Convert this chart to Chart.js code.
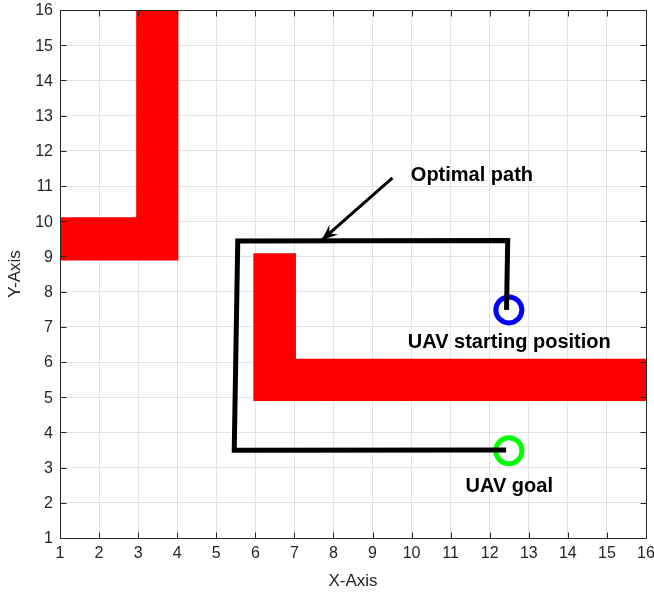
<!DOCTYPE html>
<html>
<head>
<meta charset="utf-8">
<script src="https://cdn.jsdelivr.net/npm/chart.js@4.4.1/dist/chart.umd.min.js"></script>
<style>
  html, body { margin: 0; padding: 0; background: #ffffff; }
  #wrap { width: 654px; height: 593px; }
</style>
</head>
<body>
<div id="wrap"><canvas id="pathChart" width="654" height="593"></canvas></div>
<script>
// --- Données ---
const axisTicks = [1, 2, 3, 4, 5, 6, 7, 8, 9, 10, 11, 12, 13, 14, 15, 16];

// obstacles (polygones fermés)
const obstacleA = [
    { x: 2.95, y: 16.1 }, { x: 4.03, y: 16.1 }, { x: 4.03, y: 8.88 },
    { x: 0.96, y: 8.88 }, { x: 0.96, y: 10.11 }, { x: 2.95, y: 10.11 }, { x: 2.95, y: 16.1 }
];
const obstacleB = [
    { x: 5.95, y: 9.09 }, { x: 7.04, y: 9.09 }, { x: 7.04, y: 6.09 },
    { x: 16.03, y: 6.09 }, { x: 16.03, y: 4.89 }, { x: 5.95, y: 4.89 }, { x: 5.95, y: 9.09 }
];

// chemin optimal
const optimalPath = [
    { x: 12.43, y: 7.48 }, { x: 12.46, y: 9.45 }, { x: 5.55, y: 9.44 },
    { x: 5.46, y: 3.49 }, { x: 12.42, y: 3.5 }
];

const startPoint = [{ x: 12.49, y: 7.48 }];
const goalPoint = [{ x: 12.49, y: 3.48 }];

// flèche d'annotation : départ -> pointe
const arrowLine = [{ x: 9.51, y: 11.23 }, { x: 7.70, y: 9.46 }];

const labels = [
    { text: 'Optimal path', x: 9.98, y: 11.29, align: 'left' },
    { text: 'UAV starting position', x: 12.5, y: 6.55, align: 'center' },
    { text: 'UAV goal', x: 12.5, y: 2.45, align: 'center' }
];

const AXIS_COLOR = '#262626';
const FONT = '"Liberation Sans", Arial, Helvetica, sans-serif';

// --- Plugin : cadre, graduations intérieures, étiquettes, flèche et textes ---
const decorPlugin = {
    id: 'decor',
    afterDatasetsDraw(chart) {
        const { ctx, chartArea: a, scales: { x, y } } = chart;
        ctx.save();

        // flèche (tête pleine avec encoche)
        const p0 = { x: x.getPixelForValue(arrowLine[0].x), y: y.getPixelForValue(arrowLine[0].y) };
        const p1 = { x: x.getPixelForValue(arrowLine[1].x), y: y.getPixelForValue(arrowLine[1].y) };
        const ang = Math.atan2(p1.y - p0.y, p1.x - p0.x);
        const len = 16, half = 6.5, notch = 10;
        const pt = (d, w) => ({
            x: p1.x - d * Math.cos(ang) - w * Math.sin(ang),
            y: p1.y - d * Math.sin(ang) + w * Math.cos(ang)
        });
        const c1 = pt(len, half), c2 = pt(len, -half), n = pt(notch, 0);
        ctx.fillStyle = '#000';
        ctx.beginPath();
        ctx.moveTo(p1.x, p1.y);
        ctx.lineTo(c1.x, c1.y);
        ctx.lineTo(n.x, n.y);
        ctx.lineTo(c2.x, c2.y);
        ctx.closePath();
        ctx.fill();

        // textes
        ctx.fillStyle = '#000';
        ctx.font = 'bold 20px ' + FONT;
        ctx.textBaseline = 'middle';
        labels.forEach(l => {
            ctx.textAlign = l.align;
            ctx.fillText(l.text, x.getPixelForValue(l.x), y.getPixelForValue(l.y));
        });

        // cadre complet
        ctx.strokeStyle = AXIS_COLOR;
        ctx.lineWidth = 1;
        const L = Math.round(a.left) + 0.5, R = Math.round(a.right) + 0.5;
        const T = Math.round(a.top) + 0.5, B = Math.round(a.bottom) + 0.5;
        ctx.strokeRect(L, T, R - L, B - T);

        // graduations vers l'intérieur sur les quatre côtés + étiquettes
        const tl = 6;
        ctx.beginPath();
        axisTicks.forEach(v => {
            const px = Math.round(x.getPixelForValue(v)) + 0.5;
            ctx.moveTo(px, B); ctx.lineTo(px, B - tl);
            ctx.moveTo(px, T); ctx.lineTo(px, T + tl);
            const py = Math.round(y.getPixelForValue(v)) + 0.5;
            ctx.moveTo(L, py); ctx.lineTo(L + tl, py);
            ctx.moveTo(R, py); ctx.lineTo(R - tl, py);
        });
        ctx.stroke();

        ctx.fillStyle = AXIS_COLOR;
        ctx.font = '16px ' + FONT;
        ctx.textBaseline = 'middle';
        axisTicks.forEach(v => {
            ctx.textAlign = 'center';
            ctx.fillText(String(v), x.getPixelForValue(v), a.bottom + 16);
            ctx.textAlign = 'right';
            ctx.fillText(String(v), a.left - 7, y.getPixelForValue(v) + 1);
        });
        ctx.restore();
    }
};

const obstacleStyle = {
    showLine: true,
    fill: 'shape',
    backgroundColor: '#ff0000',
    borderColor: '#ff0000',
    borderWidth: 0,
    pointRadius: 0,
    clip: false,
    tension: 0
};

new Chart(document.getElementById('pathChart'), {
    type: 'scatter',
    data: {
        datasets: [
            { ...obstacleStyle, data: obstacleA, order: 5 },
            { ...obstacleStyle, data: obstacleB, order: 5 },
            {
                data: startPoint, order: 3, pointRadius: 13, pointBorderWidth: 5,
                pointBorderColor: '#0000ff', pointBackgroundColor: 'rgba(0,0,0,0)', clip: false
            },
            {
                data: goalPoint, order: 3, pointRadius: 13, pointBorderWidth: 5,
                pointBorderColor: '#00ff00', pointBackgroundColor: 'rgba(0,0,0,0)', clip: false
            },
            {
                data: optimalPath, order: 1, showLine: true, borderColor: '#000', borderWidth: 5,
                pointRadius: 0, tension: 0, borderJoinStyle: 'miter', clip: false
            },
            {
                data: arrowLine, order: 1, showLine: true, borderColor: '#000', borderWidth: 3,
                pointRadius: 0, tension: 0, clip: false
            }
        ]
    },
    options: {
        responsive: false,
        animation: false,
        events: [],
        layout: { autoPadding: false, padding: { top: 10, right: 8, left: 0, bottom: 0 } },
        plugins: { legend: { display: false }, tooltip: { enabled: false } },
        scales: {
            x: {
                type: 'linear', min: 1, max: 16,
                afterFit: (s) => { s.height = 55; },
                afterBuildTicks: (s) => { s.ticks = axisTicks.map(v => ({ value: v })); },
                grid: { color: '#e3e3e3', lineWidth: 1, drawTicks: false },
                border: { display: false },
                ticks: { display: false },
                title: { display: true, text: 'X-Axis', color: AXIS_COLOR, font: { family: FONT, size: 17 }, padding: 1 }
            },
            y: {
                type: 'linear', min: 1, max: 16,
                afterFit: (s) => { s.width = 60; },
                afterBuildTicks: (s) => { s.ticks = axisTicks.map(v => ({ value: v })); },
                grid: { color: '#e3e3e3', lineWidth: 1, drawTicks: false },
                border: { display: false },
                ticks: { display: false },
                title: { display: true, text: 'Y-Axis', color: AXIS_COLOR, font: { family: FONT, size: 17 }, padding: 5 }
            }
        }
    },
    plugins: [decorPlugin]
});
</script>
</body>
</html>
